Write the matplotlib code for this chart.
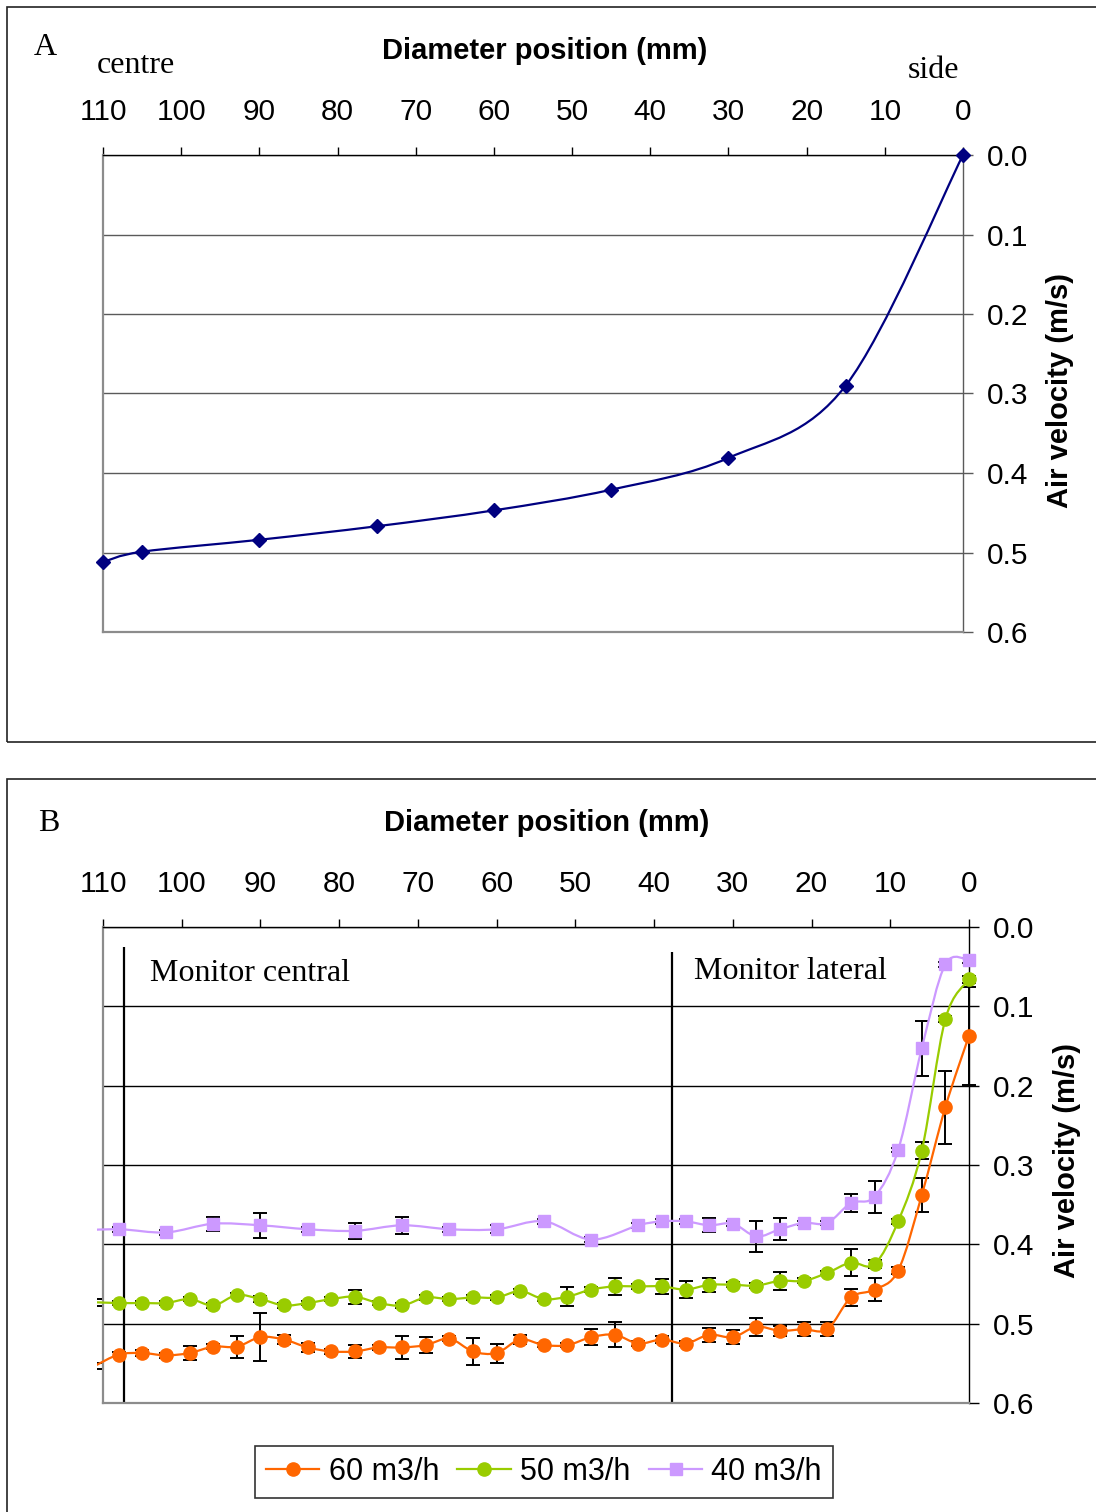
import numpy as np
import matplotlib
matplotlib.use("Agg")
import matplotlib.pyplot as plt
from matplotlib.path import Path
from matplotlib.patches import PathPatch, Rectangle
from matplotlib.lines import Line2D
from matplotlib.ticker import FormatStrFormatter

plt.rcParams["font.family"] = ["Liberation Sans", "DejaVu Sans"]
SERIF = ["Liberation Serif", "DejaVu Serif"]

# Panel A: single air velocity profile across the diameter
pos_a = [110, 105, 90, 75, 60, 45, 30, 15, 0]
vel_a = [0.512, 0.499, 0.484, 0.467, 0.447, 0.421, 0.381, 0.290, 0.0]

# Panel B: three flow rates, first point of each lies just outside the plot
pos_b = [111, 108, 105, 102, 99, 96, 93, 90, 87, 84, 81, 78, 75, 72, 69, 66, 63,
         60, 57, 54, 51, 48, 45, 42, 39, 36, 33, 30, 27, 24, 21, 18, 15, 12, 9, 6, 3, 0]
vel_60 = [0.553, 0.539, 0.537, 0.540, 0.537, 0.529, 0.529, 0.517, 0.520, 0.530,
          0.535, 0.535, 0.530, 0.530, 0.527, 0.519, 0.535, 0.537, 0.520, 0.527,
          0.527, 0.517, 0.514, 0.525, 0.520, 0.525, 0.514, 0.517, 0.504, 0.509,
          0.507, 0.507, 0.467, 0.457, 0.433, 0.338, 0.227, 0.137]
err_60 = [0.004, 0.003, 0.004, 0.003, 0.009, 0.003, 0.014, 0.030, 0.006, 0.006,
          0.003, 0.008, 0.003, 0.014, 0.010, 0.003, 0.017, 0.012, 0.006, 0.003,
          0.003, 0.010, 0.016, 0.003, 0.004, 0.003, 0.009, 0.009, 0.011, 0.006,
          0.009, 0.009, 0.011, 0.015, 0.004, 0.021, 0.046, 0.062]
vel_50 = [0.473, 0.474, 0.474, 0.474, 0.469, 0.477, 0.464, 0.469, 0.477, 0.474,
          0.469, 0.466, 0.474, 0.477, 0.467, 0.469, 0.467, 0.467, 0.459, 0.469,
          0.466, 0.457, 0.453, 0.453, 0.453, 0.457, 0.451, 0.451, 0.452, 0.446,
          0.446, 0.436, 0.423, 0.425, 0.371, 0.282, 0.116, 0.066]
err_50 = [0.0045, 0.003, 0.003, 0.003, 0.003, 0.003, 0.003, 0.004, 0.003, 0.003,
          0.003, 0.009, 0.003, 0.003, 0.003, 0.003, 0.003, 0.003, 0.003, 0.003,
          0.012, 0.003, 0.011, 0.003, 0.009, 0.011, 0.009, 0.003, 0.003, 0.011,
          0.003, 0.003, 0.017, 0.005, 0.003, 0.011, 0.004, 0.004]
pos_40 = [114, 108, 102, 96, 90, 84, 78, 72, 66, 60, 54, 48, 42, 39, 36, 33, 30,
          27, 24, 21, 18, 15, 12, 9, 6, 3, 0]
vel_40 = [0.383, 0.381, 0.385, 0.374, 0.376, 0.381, 0.383, 0.376, 0.381, 0.381,
          0.371, 0.394, 0.376, 0.371, 0.371, 0.376, 0.374, 0.390, 0.381, 0.373,
          0.373, 0.348, 0.340, 0.281, 0.153, 0.047, 0.042]
err_40 = [0.003, 0.003, 0.003, 0.009, 0.016, 0.003, 0.010, 0.011, 0.003, 0.005,
          0.003, 0.003, 0.003, 0.003, 0.003, 0.009, 0.003, 0.020, 0.014, 0.003,
          0.003, 0.011, 0.020, 0.003, 0.035, 0.003, 0.003]

# zone boundaries for the two monitors (mm)
MONITOR_CENTRAL_X = 107.3
MONITOR_LATERAL_X = 37.7

W, H = 1096, 1512


def smooth_path(x, y):
    """Bezier path through the points (spreadsheet-style smoothed line)."""
    pts = np.column_stack([x, y]).astype(float)
    n = len(pts)
    verts, codes = [pts[0]], [Path.MOVETO]
    for i in range(n - 1):
        p0 = pts[i - 1] if i > 0 else pts[i]
        p1, p2 = pts[i], pts[i + 1]
        p3 = pts[i + 2] if i + 2 < n else pts[i + 1]
        verts += [p1 + (p2 - p0) / 6, p2 - (p3 - p1) / 6, p2]
        codes += [Path.CURVE4] * 3
    return Path(verts, codes)


def fpx(x, y):
    return x / W, 1 - y / H


def style_axes(ax, grid_color, label_xy):
    ax.set_xlim(110, 0)
    ax.set_ylim(0.6, 0)
    ax.set_xticks(range(110, -1, -10))
    ax.set_yticks([0, 0.1, 0.2, 0.3, 0.4, 0.5, 0.6])
    ax.yaxis.set_major_formatter(FormatStrFormatter("%.1f"))
    ax.xaxis.set_ticks_position("top")
    ax.yaxis.set_ticks_position("right")
    ax.tick_params(axis="x", direction="out", length=6, width=1, pad=15,
                   labelsize=21.5, colors="black")
    ax.tick_params(axis="y", direction="out", length=7, width=1, pad=10,
                   labelsize=21.5, color=grid_color)
    for side in ("left", "bottom"):
        ax.spines[side].set_color("#8c8c8c")
        ax.spines[side].set_linewidth(1.6)
    ax.spines["top"].set_color("black")
    ax.spines["right"].set_color(grid_color)
    ax.spines["top"].set_linewidth(1.0)
    ax.spines["right"].set_linewidth(1.0)
    ax.yaxis.grid(True, color=grid_color, lw=1.0)
    ax.set_axisbelow(True)
    ax.yaxis.set_label_position("right")
    ax.set_ylabel("Air velocity (m/s)", fontsize=21, fontweight="bold")
    ax.yaxis.set_label_coords(*label_xy)


fig = plt.figure(figsize=(W / 100, H / 100), dpi=100)

# panel frames
fig.add_artist(Rectangle(fpx(7, 742), 1.2, (742 - 7) / H, transform=fig.transFigure,
                         fill=False, lw=1.2, edgecolor="#222222"))
fig.add_artist(Rectangle(fpx(7, 1560), 1.2, (1560 - 779) / H, transform=fig.transFigure,
                         fill=False, lw=1.2, edgecolor="#222222"))

# ---------------- panel A
ax_a = fig.add_axes([103 / W, 1 - 632 / H, 860 / W, 477 / H])
style_axes(ax_a, "#5a5a5a", ((1046 - 103) / 860, (632 - 390) / 477))
ax_a.add_patch(PathPatch(smooth_path(pos_a, vel_a), fill=False, edgecolor="#000080",
                         lw=1.6, zorder=4))
ax_a.plot(pos_a, vel_a, ls="none", marker="D", ms=7.5, color="#000080", clip_on=False,
          zorder=5)

fig.text(*fpx(34, 55), "A", fontsize=23, family=SERIF, va="baseline")
fig.text(*fpx(97, 73), "centre", fontsize=23, family=SERIF, va="baseline")
fig.text(*fpx(908, 78), "side", fontsize=23, family=SERIF, va="baseline")
fig.text(*fpx(545, 51), "Diameter position (mm)", fontsize=21, fontweight="bold",
         ha="center", va="center")

# ---------------- panel B
ax_b = fig.add_axes([103 / W, 1 - 1403 / H, 866 / W, 476 / H])
style_axes(ax_b, "black", ((1053 - 103) / 866, (1403 - 1161) / 476))
clip = Rectangle((-0.0069, -0.1), 1.2, 1.2, transform=ax_b.transAxes)

series = [
    ("60 m3/h", pos_b, vel_60, err_60, "#FF6600", "o", 9.5),
    ("50 m3/h", pos_b, vel_50, err_50, "#99CC00", "o", 9.5),
    ("40 m3/h", pos_40, vel_40, err_40, "#CC99FF", "s", 9),
]
handles = []
for label, xs, ys, es, color, mk, ms in series:
    eb = ax_b.errorbar(xs, ys, yerr=es, fmt="none", ecolor="black", elinewidth=1.4,
                       capsize=5, capthick=1.4, zorder=3)
    for art in list(eb.lines[1]) + list(eb.lines[2]):
        art.set_clip_path(clip)
    line = PathPatch(smooth_path(xs, ys), fill=False, edgecolor=color, lw=1.6, zorder=4)
    ax_b.add_patch(line)
    line.set_clip_path(clip)
    ax_b.plot(xs[1:], ys[1:], ls="none", marker=mk, ms=ms, color=color, clip_on=False,
              zorder=5)
    handles.append(Line2D([], [], color=color, lw=1.6, marker=mk, ms=ms, label=label))

ax_b.vlines([MONITOR_CENTRAL_X], 0.025, 0.6, color="black", lw=1.6, zorder=2)
ax_b.vlines([MONITOR_LATERAL_X], 0.032, 0.6, color="black", lw=1.6, zorder=2)
fig.text(*fpx(150, 981), "Monitor central", fontsize=23, family=SERIF, va="baseline")
fig.text(*fpx(694, 979), "Monitor lateral", fontsize=23, family=SERIF, va="baseline")

fig.text(*fpx(38, 831), "B", fontsize=23, family=SERIF, va="baseline")
fig.text(*fpx(547, 823), "Diameter position (mm)", fontsize=21, fontweight="bold",
         ha="center", va="center")

leg = fig.legend(handles=handles, loc="center", bbox_to_anchor=fpx(544, 1472), ncol=3,
                 fontsize=22, frameon=True, fancybox=False, edgecolor="black",
                 handlelength=1.75, handletextpad=0.3, columnspacing=0.6,
                 borderpad=0.35, borderaxespad=0)
leg.get_frame().set_linewidth(1.2)

fig.savefig("out.png", dpi=100)
